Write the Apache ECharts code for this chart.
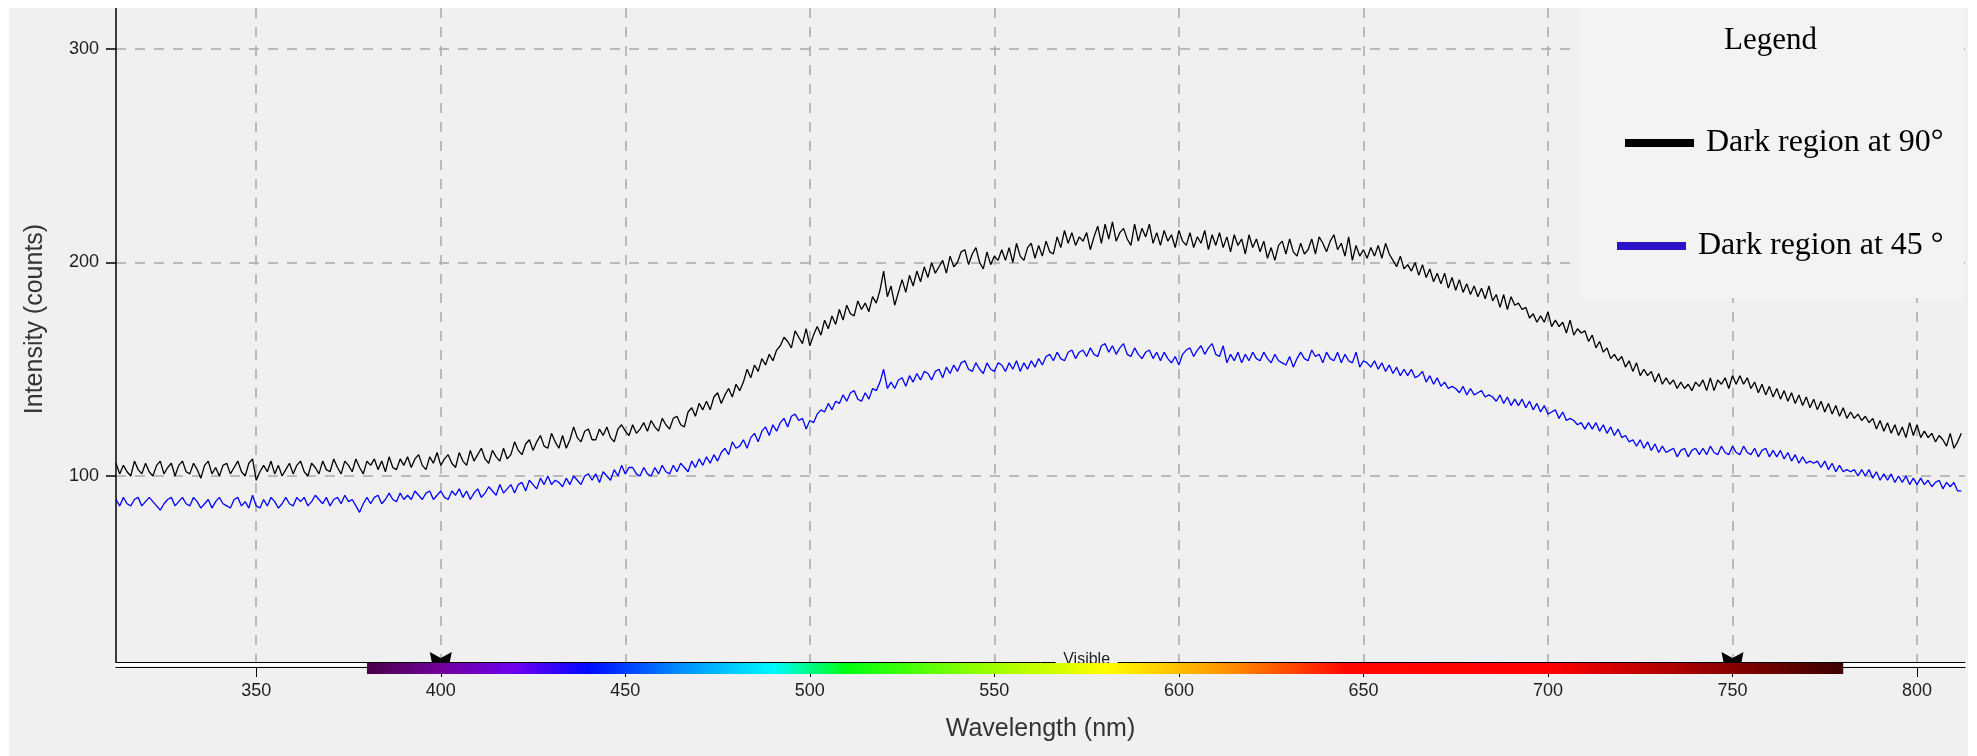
<!DOCTYPE html>
<html>
<head>
<meta charset="utf-8">
<title>Dark region spectra</title>
<script src="https://cdn.jsdelivr.net/npm/echarts@6/dist/echarts.min.js"></script>
<style>
  html, body { margin: 0; padding: 0; background: #fff; }
  #chart { position: absolute; left: 9px; top: 8px; width: 1959px; height: 748px; }
</style>
</head>
<body>
<div id="chart"></div>
<script>
// wavelength of the first sample, one sample per nm
const startNm = 312

const dark90 = [
  106, 101, 105, 102, 100, 107, 103, 101, 106, 102,
  100, 105, 107, 101, 104, 106, 100, 105, 107, 102,
  101, 106, 103, 99, 105, 107, 101, 104, 100, 105,
  106, 101, 104, 107, 102, 100, 106, 108, 98, 102,
  105, 102, 107, 101, 105, 100, 103, 106, 101, 105,
  107, 102, 100, 106, 104, 101, 107, 103, 102, 108,
  104, 101, 107, 105, 102, 108, 104, 101, 107, 105,
  108, 103, 107, 102, 109, 104, 103, 108, 105, 109,
  104, 108, 110, 105, 103, 109, 106, 111, 105, 108,
  110, 106, 104, 111, 107, 105, 112, 107, 110, 113,
  108, 106, 112, 109, 107, 113, 108, 110, 116, 112,
  110, 115, 117, 112, 116, 119, 114, 113, 120, 116,
  113, 119, 113, 117, 123, 118, 116, 121, 122, 117,
  117, 122, 119, 123, 118, 116, 122, 124, 121, 119,
  124, 120, 122, 125, 121, 126, 123, 121, 127, 124,
  122, 127, 128, 124, 123, 130, 132, 128, 134, 131,
  135, 131, 137, 139, 134, 138, 141, 137, 143, 140,
  144, 150, 146, 152, 149, 155, 152, 157, 154, 159,
  161, 165, 163, 160, 168, 165, 162, 169, 161, 166,
  170, 166, 173, 169, 175, 171, 178, 173, 180, 176,
  175, 182, 178, 181, 177, 184, 181, 187, 196, 184,
  189, 180, 186, 192, 186, 194, 189, 196, 191, 198,
  193, 200, 195, 198, 201, 195, 203, 198, 200, 205,
  206, 199, 204, 207, 200, 197, 205, 199, 203, 201,
  206, 201, 207, 200, 209, 203, 201, 207, 209, 202,
  208, 203, 210, 205, 204, 212, 207, 215, 209, 214,
  208, 212, 210, 214, 206, 212, 217, 209, 218, 211,
  219, 210, 214, 216, 211, 208, 218, 210, 216, 212,
  218, 209, 214, 208, 215, 210, 213, 207, 215, 210,
  208, 214, 207, 212, 209, 215, 206, 213, 208, 214,
  207, 212, 205, 213, 208, 211, 204, 213, 207, 211,
  205, 210, 202, 207, 201, 208, 210, 204, 211, 205,
  203, 209, 204, 206, 211, 204, 212, 209, 205, 210,
  213, 206, 209, 203, 212, 201, 208, 203, 206, 202,
  207, 203, 208, 202, 209, 204, 201, 198, 203, 197,
  199, 196, 200, 194, 199, 193, 197, 191, 195, 190,
  195, 188, 193, 187, 192, 186, 190, 185, 189, 184,
  188, 183, 189, 182, 185, 179, 185, 178, 184, 180,
  181, 178, 179, 174, 176, 172, 175, 172, 177, 170,
  173, 170, 172, 167, 173, 166, 169, 167, 168, 163,
  166, 160, 163, 158, 160, 155, 157, 154, 156, 151,
  154, 149, 153, 147, 150, 147, 149, 144, 148, 143,
  146, 143, 145, 141, 144, 141, 143, 140, 144, 142,
  145, 140, 146, 140, 145, 143, 146, 141, 147, 143,
  147, 143, 146, 141, 144, 139, 143, 138, 142, 137,
  141, 136, 140, 135, 139, 134, 138, 133, 137, 132,
  136, 131, 135, 130, 134, 129, 133, 128, 132, 127,
  130, 127, 129, 126, 128, 125, 127, 122, 126, 121,
  125, 120, 124, 119, 123, 118, 125, 119, 124, 118,
  121, 118, 120, 116, 119, 117, 114, 120, 113, 116,
  120
]

const dark45 = [
  89, 86, 90, 87, 86, 89, 90, 86, 88, 90,
  88, 86, 84, 87, 89, 90, 86, 88, 90, 87,
  86, 90, 88, 85, 87, 89, 85, 88, 90, 87,
  86, 85, 89, 90, 86, 88, 85, 91, 86, 85,
  89, 86, 90, 88, 85, 87, 90, 87, 86, 90,
  88, 90, 86, 88, 91, 89, 87, 90, 86, 89,
  90, 87, 91, 88, 89, 86, 83, 87, 90, 87,
  90, 91, 87, 89, 92, 89, 88, 92, 89, 91,
  89, 93, 91, 89, 92, 93, 89, 91, 93, 90,
  89, 93, 91, 94, 90, 93, 89, 92, 94, 90,
  92, 95, 93, 91, 96, 92, 94, 96, 92, 96,
  97, 93, 98, 96, 94, 99, 96, 100, 96, 98,
  97, 95, 99, 96, 100, 98, 96, 100, 101, 98,
  101, 97, 102, 100, 98, 103, 100, 105, 101, 104,
  104, 101, 100, 104, 101, 100, 104, 101, 105, 102,
  101, 105, 102, 106, 104, 102, 107, 104, 108, 105,
  109, 106, 110, 107, 111, 113, 110, 116, 113, 114,
  117, 113, 118, 120, 116, 121, 123, 119, 124, 121,
  125, 127, 123, 128, 129, 126, 127, 122, 126, 125,
  129, 131, 130, 134, 131, 135, 134, 138, 135, 139,
  140, 136, 135, 139, 136, 141, 140, 144, 150, 141,
  144, 141, 145, 146, 142, 147, 144, 148, 145, 149,
  148, 145, 149, 150, 146, 151, 148, 152, 149, 153,
  154, 150, 149, 153, 150, 148, 153, 150, 149, 153,
  152, 149, 153, 150, 154, 149, 153, 150, 154, 151,
  155, 152, 156, 157, 154, 158, 155, 154, 158, 159,
  155, 158, 159, 156, 160, 157, 156, 161, 162, 158,
  161, 157, 160, 162, 157, 156, 160, 157, 155, 158,
  159, 155, 158, 154, 158, 155, 153, 156, 152, 157,
  159, 160, 156, 159, 161, 157, 160, 162, 157, 156,
  161, 153, 157, 154, 158, 153, 157, 154, 158, 155,
  154, 158, 155, 153, 157, 154, 153, 152, 156, 151,
  155, 158, 155, 154, 159, 156, 157, 153, 158, 155,
  154, 158, 153, 157, 154, 153, 158, 151, 154, 153,
  151, 154, 150, 153, 149, 152, 148, 151, 147, 150,
  147, 150, 146, 147, 149, 144, 147, 143, 146, 142,
  144, 141, 142, 141, 139, 142, 138, 141, 138, 139,
  140, 137, 138, 137, 135, 138, 134, 137, 133, 136,
  133, 136, 132, 135, 131, 134, 130, 133, 129, 130,
  131, 127, 130, 126, 127, 126, 124, 125, 122, 125,
  122, 125, 121, 124, 120, 123, 119, 122, 118, 119,
  116, 117, 114, 117, 113, 116, 112, 115, 111, 114,
  111, 112, 113, 109, 112, 113, 109, 112, 113, 110,
  113, 110, 114, 111, 110, 114, 111, 110, 114, 111,
  110, 114, 111, 110, 113, 109, 112, 113, 109, 112,
  109, 112, 108, 111, 107, 110, 106, 109, 106, 107,
  106, 107, 104, 107, 103, 106, 102, 105, 102, 103,
  102, 103, 100, 103, 100, 103, 99, 102, 98, 101,
  98, 101, 97, 100, 97, 100, 96, 99, 96, 99,
  96, 98, 95, 97, 98, 94, 97, 95, 97, 93,
  93
]

const seriesNames = ['Dark region at 90°', 'Dark region at 45 °']
const xRange = [312, 813]
const yRange = [12.9, 319.2]
const xTicks = [350, 400, 450, 500, 550, 600, 650, 700, 750, 800]
const yTicks = [100, 200, 300]
const visibleBand = [380, 780]
const visibleMarks = [400, 750]
const spectrumStops = [
  [380, '#4a0048'], [400, '#72009c'], [420, '#6e00f0'], [440, '#0008ff'],
  [465, '#0090ff'], [490, '#00f8ff'], [510, '#00ff10'], [545, '#90ff00'],
  [580, '#ffff00'], [612, '#ff9600'], [645, '#ff0800'], [700, '#ff0000'],
  [740, '#a00000'], [780, '#3c0000']
]

const bg = '#f0f0f0'
const sans = 'Liberation Sans'
const serif = 'Liberation Serif'

const chart = echarts.init(document.getElementById('chart'))

const gridLine = { show: true, lineStyle: { color: '#a8a8a8', width: 1.5, type: [10, 9] } }

function toPairs(values) {
  return values.map((v, i) => [startNm + i, v])
}

function renderVisible(params, api) {
  const p0 = api.coord([api.value(0), yRange[0]])
  const p1 = api.coord([api.value(1), yRange[0]])
  const m0 = api.coord([api.value(2), yRange[0]])
  const m1 = api.coord([api.value(3), yRange[0]])
  const y = p0[1]
  const midX = (m0[0] + m1[0]) / 2
  const span = api.value(1) - api.value(0)
  const stops = spectrumStops.map(s => ({ offset: (s[0] - api.value(0)) / span, color: s[1] }))
  const marker = (cx) => ({
    type: 'polygon',
    shape: { points: [[cx - 11, y - 10], [cx, y - 4], [cx + 11, y - 10], [cx + 9, y], [cx - 9, y]] },
    style: { fill: '#000' }
  })
  return {
    type: 'group',
    children: [
      { type: 'rect', shape: { x: midX - 31, y: y - 2, width: 62, height: 4 }, style: { fill: bg } },
      {
        type: 'text',
        style: { text: 'Visible', x: midX, y: y + 6, align: 'center', verticalAlign: 'bottom', font: '16px "Liberation Sans"', fill: '#222' }
      },
      {
        type: 'rect',
        shape: { x: p0[0], y: y + 1, width: p1[0] - p0[0], height: 11 },
        style: { fill: new echarts.graphic.LinearGradient(0, 0, 1, 0, stops) }
      },
      marker(m0[0]),
      marker(m1[0])
    ]
  }
}

const option = {
  backgroundColor: bg,
  animation: false,
  title: {
    text: 'Legend',
    left: 1715,
    top: 17,
    padding: 0,
    textStyle: { fontFamily: serif, fontSize: 31, fontWeight: 'normal', color: '#000', lineHeight: 32 }
  },
  legend: [
    {
      data: [{ name: seriesNames[0], itemStyle: { color: '#000' } }],
      left: 1616,
      top: 119,
      padding: 0,
      icon: 'rect',
      itemWidth: 69,
      itemHeight: 8,
      selectedMode: false,
      textStyle: { fontFamily: serif, fontSize: 32, color: '#000', lineHeight: 32, padding: [0, 0, 0, 7] }
    },
    {
      data: [{ name: seriesNames[1], itemStyle: { color: '#2d14c8' } }],
      left: 1608,
      top: 222,
      padding: 0,
      icon: 'rect',
      itemWidth: 69,
      itemHeight: 8,
      selectedMode: false,
      textStyle: { fontFamily: serif, fontSize: 32, color: '#000', lineHeight: 32, padding: [0, 0, 0, 7] }
    }
  ],
  graphic: [
    { type: 'rect', left: 1569, top: 0, z: 3, shape: { width: 386, height: 290 }, style: { fill: '#f3f3f3' } }
  ],
  grid: { left: 107, right: 3, top: 0, bottom: 94 },
  xAxis: [
    {
      type: 'value',
      min: xRange[0],
      max: xRange[1],
      position: 'bottom',
      axisLine: { onZero: false, lineStyle: { color: '#000', width: 1 } },
      axisTick: { show: false, customValues: xTicks },
      axisLabel: { show: false, customValues: xTicks },
      splitLine: gridLine,
      name: 'Wavelength (nm)',
      nameLocation: 'middle',
      nameGap: 55,
      nameTextStyle: { fontFamily: sans, fontSize: 25, color: '#333' }
    },
    {
      type: 'value',
      min: xRange[0],
      max: xRange[1],
      position: 'bottom',
      offset: 2.5,
      axisLine: { onZero: false, lineStyle: { color: '#fff', width: 3 } },
      axisTick: { show: false },
      axisLabel: { show: false },
      splitLine: { show: false }
    },
    {
      type: 'value',
      min: xRange[0],
      max: xRange[1],
      position: 'bottom',
      offset: 5,
      axisLine: { onZero: false, lineStyle: { color: '#000', width: 1 } },
      axisTick: { show: true, customValues: xTicks, length: 10, lineStyle: { color: '#000', width: 1 } },
      axisLabel: { customValues: xTicks, margin: 15, fontFamily: sans, fontSize: 18, color: '#1e1e1e' },
      splitLine: { show: false }
    }
  ],
  yAxis: {
    type: 'value',
    min: yRange[0],
    max: yRange[1],
    axisLine: { show: true, onZero: false, lineStyle: { color: '#000', width: 1.5 } },
    axisTick: { show: true, customValues: yTicks, length: 10, lineStyle: { color: '#000', width: 1.5 } },
    axisLabel: { customValues: yTicks, margin: 17, fontFamily: sans, fontSize: 18, color: '#1e1e1e' },
    splitLine: gridLine,
    name: 'Intensity (counts)',
    nameLocation: 'middle',
    nameGap: 68,
    nameTextStyle: { fontFamily: sans, fontSize: 25, color: '#333', padding: [0, 0, 0, 32] }
  },
  series: [
    {
      name: seriesNames[0],
      type: 'line',
      data: toPairs(dark90),
      showSymbol: false,
      lineStyle: { color: '#000', width: 1.3 },
      itemStyle: { color: '#000' }
    },
    {
      name: seriesNames[1],
      type: 'line',
      data: toPairs(dark45),
      showSymbol: false,
      lineStyle: { color: '#0000ff', width: 1.3 },
      itemStyle: { color: '#0000ff' }
    },
    {
      name: 'visible',
      type: 'custom',
      silent: true,
      clip: false,
      z: 5,
      data: [[visibleBand[0], visibleBand[1], visibleMarks[0], visibleMarks[1]]],
      renderItem: renderVisible
    }
  ]
}

chart.setOption(option)
</script>
</body>
</html>
